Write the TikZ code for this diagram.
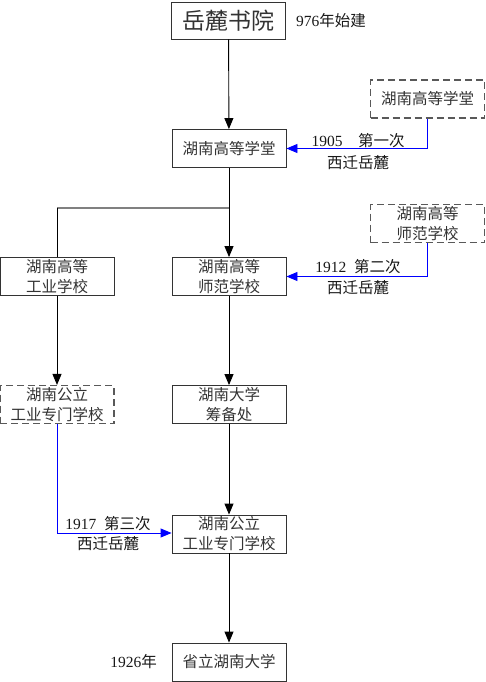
\documentclass[tikz,border=0pt]{standalone}
\usepackage{fontspec}
\setmainfont{Liberation Serif}
\newfontfamily\cjk{Noto Sans CJK SC}
\usetikzlibrary{arrows.meta}
\begin{document}
\begin{tikzpicture}[x=1pt,y=-1pt,
  box/.style={draw=black!80,line width=0.9pt,minimum width=114pt,minimum height=38pt,inner sep=0pt,align=center,font=\fontsize{15.5}{20}\selectfont\cjk,text=black!80},
  dbox/.style={box,dashed,dash pattern=on 7pt off 4pt,draw=black!65,line width=1.1pt},
  lbl/.style={inner sep=0pt,font=\fontsize{15.5}{18}\selectfont,text=black!90},
  arr/.style={line width=0.9pt,-{Triangle[length=11pt,width=9pt]}},
  blu/.style={draw=blue,line width=0.9pt,-{Triangle[length=11pt,width=9pt]},color=blue}]
\useasboundingbox (0,0) rectangle (485,682);
\node[box,minimum height=37pt,font=\fontsize{23}{25}\selectfont\cjk] (sy) at (228.5,20.5) {岳麓书院};
\node[lbl,anchor=west] (t976) at (296,20.5) {976{\cjk 年始建}};
\node[box] (xt) at (229,148.5) {湖南高等学堂};
\node[dbox] (dxt) at (427.5,99) {湖南高等学堂};
\node[box] (gy) at (57,276.5) {湖南高等\\工业学校};
\node[box] (sf) at (229,276.5) {湖南高等\\师范学校};
\node[dbox] (dsf) at (427.5,223.5) {湖南高等\\师范学校};
\node[dbox] (dgz) at (57,404.5) {湖南公立\\工业专门学校};
\node[box] (cb) at (229,404.5) {湖南大学\\筹备处};
\node[box] (gz) at (229,534) {湖南公立\\工业专门学校};
\node[box] (sl) at (229,662) {省立湖南大学};
\node[lbl,anchor=east] (y1926) at (157,662) {1926{\cjk 年}};
% main flow
\draw[arr] (sy) -- (xt);
\coordinate (j) at (229,208);
\coordinate (jl) at (57,208);
\draw[line width=0.9pt] (xt.south) -- (j);
\draw[arr] (j) -- (sf.north);
\draw[draw=black!50,line width=1.6pt] (j) -- (jl);
\draw[line width=0.9pt] (jl) -- (gy.north);
\draw[arr] (gy) -- (dgz);
\draw[arr] (sf) -- (cb);
\draw[arr] (cb) -- (gz);
\draw[arr] (gz) -- (sl);
% moves
\draw[blu] (dxt.south) |- (xt.east);
\draw[blu] (dsf.south) |- (sf.east);
\coordinate (c3) at (57,533);
\draw[blu] (dgz.south) -- (c3) -- (gz.west |- c3);
\node[lbl] (m1a) at (358,141) {1905\quad{\cjk 第一次}};
\node[lbl] (m1b) at (358,163) {\cjk 西迁岳麓};
\node[lbl] (m2a) at (358,267) {1912\enspace{\cjk 第二次}};
\node[lbl] (m2b) at (358,288) {\cjk 西迁岳麓};
\node[lbl] (m3a) at (108,524) {1917\enspace{\cjk 第三次}};
\node[lbl] (m3b) at (108,543.5) {\cjk 西迁岳麓};
\end{tikzpicture}
\end{document}
